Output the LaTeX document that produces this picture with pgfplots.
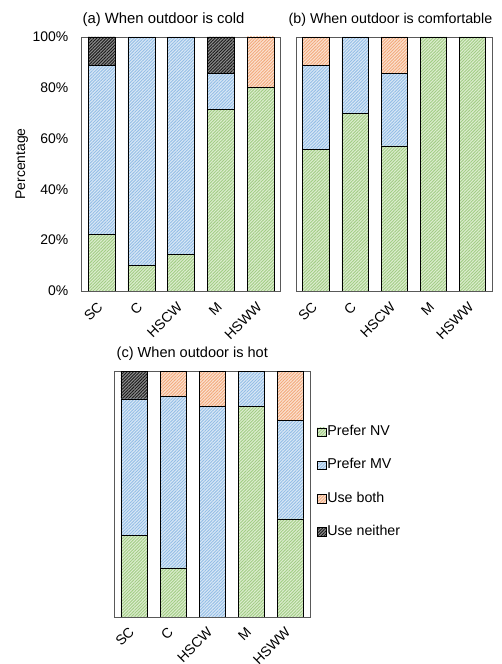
\documentclass[border=0pt]{standalone}
\usepackage{fontspec}
\setmainfont{Liberation Sans}
\usepackage{pgfplots}
\pgfplotsset{compat=1.18}
\usetikzlibrary{patterns.meta}

\definecolor{nvfill}{HTML}{DDEDD0}
\definecolor{nvline}{HTML}{A2CD85}
\definecolor{mvfill}{HTML}{DAE8F6}
\definecolor{mvline}{HTML}{94BEE6}
\definecolor{bothfill}{HTML}{FCE2D2}
\definecolor{bothline}{HTML}{F2AA7C}
\definecolor{neitherfill}{HTML}{8C8C8C}
\definecolor{neitherline}{HTML}{1A1A1A}
\definecolor{framegray}{HTML}{595959}

\pgfplotsset{
  hatched/.style n args={2}{
    fill=#1, draw=black, line width=0.7bp,
    postaction={pattern={Lines[angle=45,distance=2.2bp,line width=0.9bp]},
                pattern color=#2}},
  nv/.style={hatched={nvfill}{nvline}},
  mv/.style={hatched={mvfill}{mvline}},
  both/.style={hatched={bothfill}{bothline}},
  neither/.style={hatched={neitherfill}{neitherline}},
  panel/.style={
    scale only axis,
    ybar stacked,
    bar width=26.5bp,
    xmin=-0.5, xmax=4.5, ymin=0, ymax=100,
    enlarge x limits=false,
    xtick={0,...,4},
    xticklabels={SC,C,HSCW,M,HSWW},
    ytick={0,20,...,100},
    yticklabel={\pgfmathprintnumber{\tick}\%},
    /pgf/number format/assume math mode=true,
    major tick length=0pt,
    tick style={draw=none},
    axis line style={draw=framegray, line width=0.8bp},
    font=\fontsize{14}{16}\selectfont,
    tick label style={font=\fontsize{14}{16}\selectfont},
    xticklabel style={xshift=-5bp, yshift=-10bp, rotate=45,
                      anchor=north east, inner sep=0pt},
    yticklabel style={xshift=-10bp},
    legend image code/.code={
      \draw[#1, line width=0.6bp] (0bp,-4.25bp) rectangle (8.5bp,4.25bp);},
  },
}

\begin{document}
\begin{tikzpicture}[x=1bp,y=1bp]
\useasboundingbox (0,0) rectangle (502,664);

% (a) outdoor cold
\begin{axis}[panel, at={(81.7bp,373bp)}, anchor=south west,
  width=199bp, height=254bp, bar width=27bp,
  ylabel={Percentage},
  ylabel style={at={(axis description cs:-0.3015,0.5)}, anchor=center}]
\addplot[nv] coordinates {(0,22.2) (1,10) (2,14.3) (3,71.4) (4,80)};
\addplot[mv] coordinates {(0,66.7) (1,90) (2,85.7) (3,14.3) (4,0)};
\addplot[both] coordinates {(0,0) (1,0) (2,0) (3,0) (4,20)};
\addplot[neither] coordinates {(0,11.1) (1,0) (2,0) (3,14.3) (4,0)};
\end{axis}
\node[anchor=base west, inner sep=0pt, font=\fontsize{14.9}{17}\selectfont]
  at (82.5,640) {(a) When outdoor is cold};

% (b) outdoor comfortable
\begin{axis}[panel, at={(296.5bp,373bp)}, anchor=south west,
  width=195.5bp, height=254bp, yticklabels={}]
\addplot[nv] coordinates {(0,55.6) (1,70) (2,57.1) (3,100) (4,100)};
\addplot[mv] coordinates {(0,33.3) (1,30) (2,28.6) (3,0) (4,0)};
\addplot[both] coordinates {(0,11.1) (1,0) (2,14.3) (3,0) (4,0)};
\addplot[neither] coordinates {(0,0) (1,0) (2,0) (3,0) (4,0)};
\end{axis}
\node[anchor=base west, inner sep=0pt, font=\fontsize{14.3}{17}\selectfont]
  at (288.5,640) {(b) When outdoor is comfortable};

% (c) outdoor hot, with the shared legend
\begin{axis}[panel, at={(114.7bp,47bp)}, anchor=south west,
  width=195.3bp, height=245.3bp, yticklabels={},
  xticklabel style={yshift=1.5bp},
  legend style={draw=none, fill=none, inner sep=0pt,
    at={(1.036,0.55)}, anchor=west,
    font=\fontsize{14.3}{16}\selectfont,
    row sep=18.3bp, column sep=0bp,
    nodes={inner sep=1bp, text height=10bp, text depth=3bp}},
  legend cell align=left]
\addplot[nv] coordinates {(0,33.3) (1,20) (2,0) (3,85.7) (4,40)};
\addplot[mv] coordinates {(0,55.6) (1,70) (2,85.7) (3,14.3) (4,40)};
\addplot[both] coordinates {(0,0) (1,10) (2,14.3) (3,0) (4,20)};
\addplot[neither] coordinates {(0,11.1) (1,0) (2,0) (3,0) (4,0)};
\legend{Prefer NV, Prefer MV, Use both, Use neither}
\end{axis}
\node[anchor=base west, inner sep=0pt, font=\fontsize{14.6}{17}\selectfont]
  at (116.5,306) {(c) When outdoor is hot};
\end{tikzpicture}
\end{document}
